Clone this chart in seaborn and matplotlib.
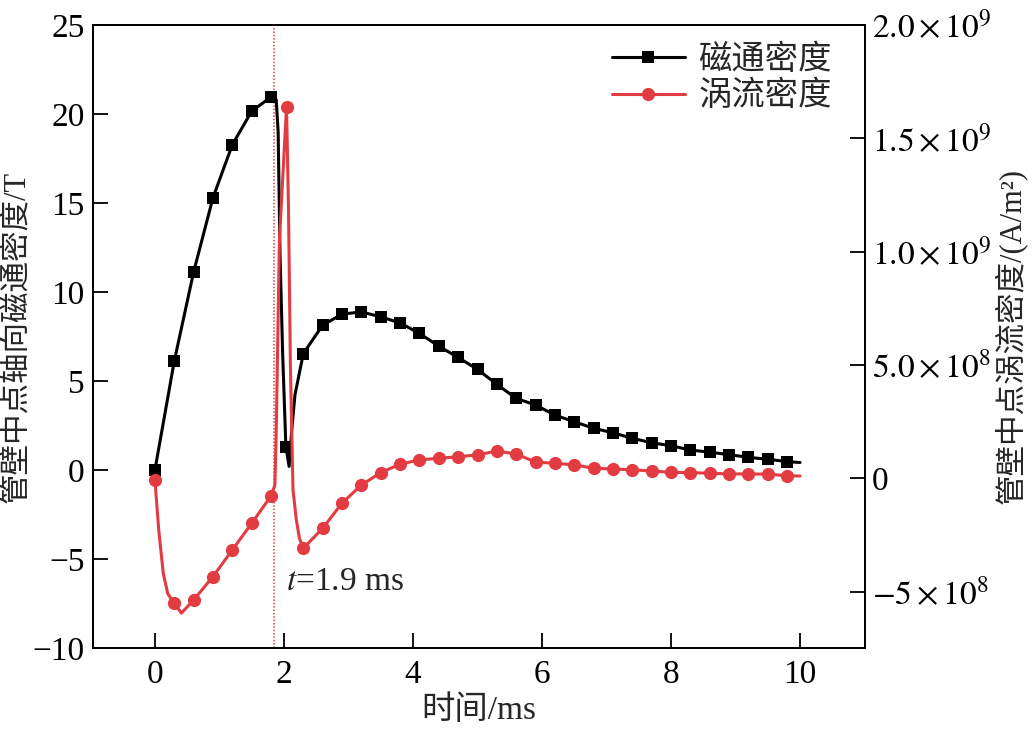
import numpy as np
import pandas as pd
import matplotlib
matplotlib.use("Agg")
import matplotlib.pyplot as plt
import seaborn as sns
from matplotlib.lines import Line2D

# ---------------- data ----------------
# flux density (left axis, T)
flux_t = [0.0, 0.3, 0.6, 0.9, 1.2, 1.5, 1.8, 1.88, 1.91, 1.94, 1.98, 2.03, 2.08, 2.12, 2.17,
          2.3, 2.6, 2.9, 3.2, 3.5, 3.8, 4.1, 4.4, 4.7, 5.0, 5.3, 5.6, 5.9, 6.2, 6.5, 6.8,
          7.1, 7.4, 7.7, 8.0, 8.3, 8.6, 8.9, 9.2, 9.5, 9.8, 10.0]
flux_v = [0.0, 6.11, 11.12, 15.29, 18.27, 20.15, 20.95, 20.8, 19.0, 12.0, 6.5, 1.3, 0.2, 2.2, 4.2,
          6.54, 8.13, 8.75, 8.88, 8.6, 8.26, 7.67, 6.95, 6.32, 5.65, 4.81, 4.02, 3.65, 3.08, 2.71, 2.34,
          2.09, 1.78, 1.53, 1.36, 1.12, 1.0, 0.86, 0.71, 0.60, 0.47, 0.42]
flux_marks = [0, 1, 2, 3, 4, 5, 6, 11] + list(range(15, 41))

# eddy current density (right axis, A/m^2)
eddy_t = [0.0, 0.06, 0.13, 0.2, 0.3, 0.41, 0.6, 0.9, 1.2, 1.5, 1.8, 1.86, 1.88, 1.93, 2.04, 2.07,
          2.1, 2.14, 2.19, 2.24, 2.3, 2.6, 2.9, 3.2, 3.5, 3.8, 4.1, 4.4, 4.7, 5.0, 5.3, 5.6, 5.9,
          6.2, 6.5, 6.8, 7.1, 7.4, 7.7, 8.0, 8.3, 8.6, 8.9, 9.2, 9.5, 9.8, 10.0]
eddy_v_e8 = [-0.08, -2.3, -4.2, -5.1, -5.51, -5.95, -5.37, -4.34, -3.16, -1.99, -0.78, -0.3, 2.0,
             10.5, 16.39, 12.0, 5.0, -0.5, -1.8, -2.65, -3.09, -2.21, -1.10, -0.30, 0.25, 0.62,
             0.81, 0.88, 0.95, 1.03, 1.20, 1.07, 0.71, 0.66, 0.59, 0.44, 0.41, 0.37, 0.32, 0.26,
             0.25, 0.22, 0.19, 0.19, 0.18, 0.11, 0.10]
eddy_marks = [0, 4, 6, 7, 8, 9, 10, 14] + list(range(20, 46))

x_ticks = [0, 2, 4, 6, 8, 10]
left_ticks = [-10, -5, 0, 5, 10, 15, 20, 25]
right_ticks = [-5e8, 0, 5e8, 1.0e9, 1.5e9, 2.0e9]
right_labels = [r"$-5\times10^{8}$", "0", r"$5.0\times10^{8}$", r"$1.0\times10^{9}$",
                r"$1.5\times10^{9}$", r"$2.0\times10^{9}$"]
t_mark = 1.85

labels = ["磁通密度", "涡流密度"]
xlabel = "时间/ms"
ylabel_left = "管壁中点轴向磁通密度/T"
ylabel_right = "管壁中点涡流密度/(A/m²)"

# ---------------- style ----------------
sns.set_style("ticks")
plt.rcParams["font.family"] = ["Liberation Serif", "Noto Sans CJK SC", "DejaVu Sans"]
plt.rcParams["mathtext.fontset"] = "stix"
plt.rcParams["axes.linewidth"] = 1.3

black = "#000000"
red = "#E23B41"
fs_tick = 24
fs_lab = 24
fs_ylab = 22

fig = plt.figure(figsize=(10.33, 7.31), dpi=100)
ax = fig.add_axes([0.090, 0.1135, 0.747, 0.8525])
ax2 = ax.twinx()

df_f = pd.DataFrame({"t": flux_t, "v": flux_v})
df_e = pd.DataFrame({"t": eddy_t, "v": np.array(eddy_v_e8) * 1e8})

sns.lineplot(data=df_f, x="t", y="v", ax=ax, color=black, lw=2.2, marker="s",
             markersize=9, markeredgewidth=0, markevery=flux_marks, sort=False)
sns.lineplot(data=df_e, x="t", y="v", ax=ax2, color=red, lw=2.2, marker="o",
             markersize=9.5, markeredgewidth=0, markevery=eddy_marks, sort=False)

ax.axvline(t_mark, color=red, lw=1.1, ls=(0, (1, 1.2)), zorder=0)

ax.set_xlim(-0.96, 11.0)
ax.set_ylim(-10, 25)
ax2.set_ylim(-7.49e8, 2.0e9)

ax.set_xticks(x_ticks)
ax.set_xticklabels([str(v) for v in x_ticks])
ax.set_yticks(left_ticks)
ax.set_yticklabels([f"{v}" if v >= 0 else f"−{abs(v)}" for v in left_ticks])
ax2.set_yticks(right_ticks)
ax2.set_yticklabels(right_labels)

for a in (ax, ax2):
    a.tick_params(direction="in", length=11, width=1.3, labelsize=fs_tick, colors="black")
ax.tick_params(axis="y", pad=6)
ax.tick_params(axis="x", pad=8)
ax2.tick_params(axis="y", pad=5)
for s in ax.spines.values():
    s.set_color("black")
for s in ax2.spines.values():
    s.set_color("black")

ax.set_xlabel(xlabel, fontsize=fs_lab, labelpad=4)
ax.set_ylabel(ylabel_left, fontsize=fs_ylab, labelpad=1)
ax2.set_ylabel(ylabel_right, fontsize=fs_ylab, labelpad=2)

ax.text(2.03, -6.3, r"$t$=1.9 ms", fontsize=fs_tick, ha="left", va="center")

handles = [Line2D([], [], color=black, lw=2.2, marker="s", markersize=9, markeredgewidth=0),
           Line2D([], [], color=red, lw=2.2, marker="o", markersize=9.5, markeredgewidth=0)]
leg = ax2.legend(handles, labels, loc="upper right", bbox_to_anchor=(0.975, 0.99),
                 frameon=False, fontsize=fs_lab, handlelength=2.2, handletextpad=0.4,
                 labelspacing=0.15, borderaxespad=0)

fig.savefig("out.png", dpi=100)
